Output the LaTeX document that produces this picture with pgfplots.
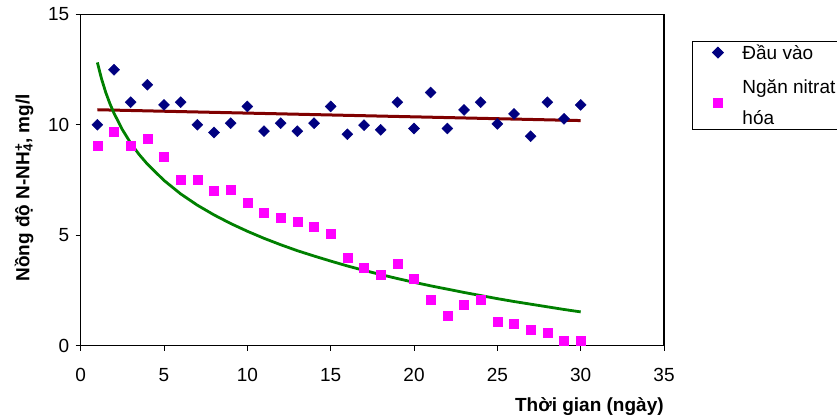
\documentclass[border=0pt]{standalone}
\usepackage{pgfplots}
\pgfplotsset{compat=1.18}
\usepackage{fontspec}
\setmainfont{Liberation Sans}
\definecolor{navyb}{RGB}{0,0,128}
\definecolor{magp}{RGB}{255,0,255}
\definecolor{brownl}{RGB}{128,0,0}
\definecolor{greenl}{RGB}{0,128,0}
\begin{document}
\begin{tikzpicture}[x=1pt,y=1pt]
\begin{axis}[
  at={(80.7pt,72.3pt)}, anchor=south west,
  scale only axis, width=583.3pt, height=331.4pt,
  xmin=0, xmax=35, ymin=0, ymax=15,
  xtick={0,5,...,35}, ytick={0,5,10,15},
  tick align=outside, xtick pos=bottom, ytick pos=left,
  major tick length=5pt,
  axis line style={line width=1.3pt},
  every tick/.style={black, line width=1pt},
  /pgf/number format/assume math mode=true,
  tick label style={font=\fontsize{19}{21}\selectfont},
  xticklabel style={yshift=-14pt},
  yticklabel style={xshift=-3pt},
  xlabel={\textbf{Thời gian (ngày)}},
  xlabel style={at={(axis description cs:0.872,-0.183)}, anchor=center, font=\fontsize{19}{21}\selectfont},
  ylabel={\textbf{Nồng độ N-NH\rlap{\textsuperscript{+}}\textsubscript{4}, mg/l}},
  ylabel style={at={(axis description cs:-0.097,0.476)}, anchor=center, font=\fontsize{19}{21}\selectfont},
  clip=false,
  legend style={at={(rel axis cs:1.048,0.919)}, anchor=north west, draw=black, line width=0.8pt,
    font=\fontsize{19}{31}\selectfont, inner xsep=20pt, inner ysep=1pt,
    nodes={align=left}, row sep=15pt,
    /tikz/every odd column/.append style={column sep=17pt}},
  legend cell align=left,
]
\addplot[only marks, mark=square*, mark size=3.9pt, mark options={rotate=45, fill=navyb, draw=navyb}] coordinates {
(1,10.00)(2,12.49)(3,11.02)(4,11.81)(5,10.90)(6,11.02)(7,10.00)(8,9.65)(9,10.07)(10,10.83)
(11,9.71)(12,10.07)(13,9.71)(14,10.07)(15,10.83)(16,9.57)(17,9.98)(18,9.77)(19,11.02)(20,9.83)
(21,11.46)(22,9.83)(23,10.67)(24,11.02)(25,10.04)(26,10.49)(27,9.48)(28,11.02)(29,10.27)(30,10.90)
};
\addlegendentry{Đầu vào}
\addplot[only marks, mark=square*, mark size=4.5pt, mark options={fill=magp, draw=magp}] coordinates {
(1,9.04)(2,9.68)(3,9.04)(4,9.39)(5,8.55)(6,7.50)(7,7.50)(8,7.02)(9,7.08)(10,6.45)
(11,6.02)(12,5.81)(13,5.60)(14,5.39)(15,5.06)(16,4.00)(17,3.52)(18,3.23)(19,3.73)(20,3.05)
(21,2.06)(22,1.36)(23,1.84)(24,2.10)(25,1.07)(26,1.01)(27,0.74)(28,0.59)(29,0.24)(30,0.24)
};
\addlegendentry{Ngăn nitrat\\hóa}
\addplot[forget plot, brownl, line width=3pt] coordinates {(1,10.68)(30,10.19)};
\addplot[forget plot, greenl, line width=2.8pt] coordinates {
(1,12.82)(1.25,12.08)(1.5,11.47)(1.75,10.96)(2,10.52)(2.5,9.78)(3,9.17)(3.5,8.66)(4,8.22)
(5,7.48)(6,6.87)(7,6.36)(8,5.92)(9,5.53)(10,5.18)(11,4.86)(12,4.57)(13,4.30)(14,4.06)(15,3.83)
(16,3.61)(17,3.41)(18,3.22)(19,3.04)(20,2.87)(21,2.71)(22,2.56)(23,2.41)(24,2.27)(25,2.13)
(26,2.00)(27,1.88)(28,1.76)(29,1.64)(30,1.53)
};
\end{axis}
\pgfresetboundingbox
\useasboundingbox (0,0) rectangle (837pt,418pt);
\end{tikzpicture}
\end{document}
